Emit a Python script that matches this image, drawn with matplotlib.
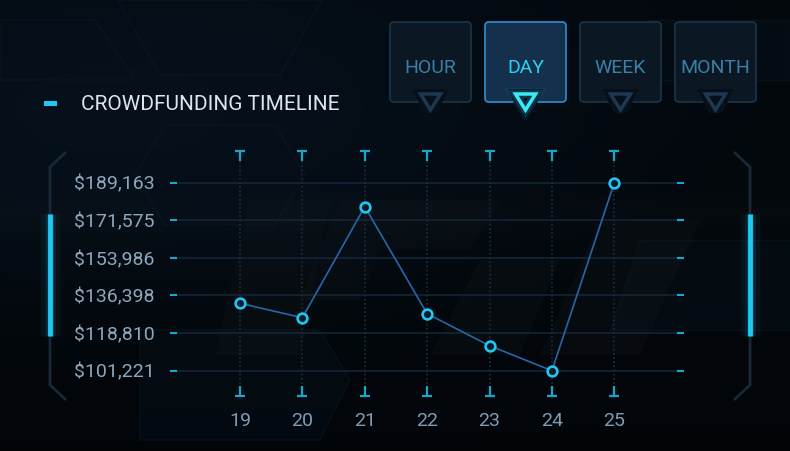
import numpy as np
import matplotlib
matplotlib.use("Agg")
import matplotlib.pyplot as plt
from matplotlib.patches import FancyBboxPatch, Polygon, Rectangle
from matplotlib.path import Path

# Data
days = [19, 20, 21, 22, 23, 24, 25]
funding = [132750, 126010, 177940, 127880, 112920, 101221, 189163]
y_ticks = [101221, 118810, 136398, 153986, 171575, 189163]
y_tick_labels = ["$101,221", "$118,810", "$136,398", "$153,986", "$171,575", "$189,163"]
buttons = ["HOUR", "DAY", "WEEK", "MONTH"]
active_button = "DAY"
title = "CROWDFUNDING TIMELINE"

FONT = "Roboto"
CYAN = "#1ec8f2"
plt.rcParams["font.family"] = [FONT, "DejaVu Sans"]

fig = plt.figure(figsize=(7.9, 4.51), dpi=100)
fig.patch.set_facecolor("#03080d")

# Background layer in pixel coordinates
bg = fig.add_axes([0, 0, 1, 1])
bg.set_xlim(0, 790)
bg.set_ylim(451, 0)
bg.axis("off")

H, W = 451, 790
yy, xx = np.mgrid[0:H, 0:W]
base = np.array([3, 8, 13]) / 255.0
glow = np.exp(-((xx - 120) ** 2 / 160000.0 + (yy - 120) ** 2 / 30000.0))
band = np.exp(-((yy - 212) ** 2) / 300.0) * 0.5
img = np.zeros((H, W, 3))
img[..., 0] = base[0] + 0.012 * glow + 0.02 * band
img[..., 1] = base[1] + 0.035 * glow + 0.02 * band
img[..., 2] = base[2] + 0.06 * glow + 0.018 * band
img = img * (1 - 0.35 * (yy / H) ** 2)[..., None]
bg.imshow(np.clip(img, 0, 1), extent=[0, W, H, 0], aspect="auto", zorder=0)

# faint hex panels
panels = [
    [(0, 20), (95, 20), (135, 80), (0, 80)],
    [(118, 0), (322, 0), (280, 75), (160, 75)],
    [(165, 125), (275, 125), (305, 175), (275, 225), (165, 225), (135, 175)],
    [(650, 20), (790, 20), (790, 80), (620, 80)],
    [(640, 240), (790, 240), (790, 330), (610, 330)],
    [(140, 330), (320, 330), (350, 380), (320, 440), (140, 440)],
]
for p in panels:
    bg.add_patch(Polygon(p, closed=True, fc="#061019", ec="#0c1c2a", lw=1.0, alpha=0.45, zorder=1))

# faint watermark shapes
marks = [
    [(215, 355), (250, 200), (330, 200), (300, 355)],
    [(300, 300), (340, 200), (500, 200), (470, 250), (380, 250), (360, 300)],
    [(430, 355), (480, 260), (560, 260), (520, 355)],
    [(540, 355), (600, 220), (700, 220), (640, 355)],
]
for p in marks:
    bg.add_patch(Polygon(p, closed=True, fc="#1a1f22", ec="none", alpha=0.18, zorder=1))

# side brackets with cyan bars
for side in ("left", "right"):
    if side == "left":
        bx, dx = 50, 15
    else:
        bx, dx = 750, -15
    bg.plot([bx + dx, bx, bx, bx + dx], [153, 167, 385, 399], color="#182836", lw=2, zorder=2)
    for w, a in [(14, 0.05), (8, 0.08), (5, 0.12)]:
        bg.plot([bx, bx], [214, 336], color=CYAN, lw=w, alpha=a, zorder=2, solid_capstyle="butt")
    bg.plot([bx, bx], [214, 336], color=CYAN, lw=3.5, zorder=3, solid_capstyle="butt")

# legend dash + title
bg.add_patch(Rectangle((44, 101), 13, 5, fc=CYAN, ec="none", zorder=3))
bg.text(81, 104, title, color="#dce6ee", fontsize=15, va="center", ha="left", zorder=3)

# period buttons
for i, label in enumerate(buttons):
    x0, y0, w, h = 390 + i * 95, 22, 81, 80
    cx = x0 + w / 2
    active = label == active_button
    fc = "#14304c" if active else "#0b1723"
    ec = "#3284c2" if active else "#1a3145"
    bg.add_patch(FancyBboxPatch((x0, y0), w, h, boxstyle="round,pad=0,rounding_size=4",
                                fc=fc, ec=ec, lw=1.3, zorder=3))
    bg.text(cx, 68, label, color="#29d3f0" if active else "#3a80a6", fontsize=14,
            ha="center", va="center", zorder=4)
    bg.add_patch(Polygon([(cx - 18, 89), (cx + 18, 89), (cx + 7, 113), (cx - 7, 113)],
                         closed=True, fc="#07101a", ec="none", zorder=4))
    tri = [(cx - 10, 94), (cx + 10, 94), (cx, 110)]
    if active:
        for lw, a in [(9, 0.08), (6, 0.15)]:
            bg.add_patch(Polygon(tri, closed=True, fill=False, ec=CYAN, lw=lw, alpha=a, zorder=5))
        bg.add_patch(Polygon(tri, closed=True, fill=False, ec="#3ee8f6", lw=2.5, zorder=5))
    else:
        bg.add_patch(Polygon(tri, closed=True, fill=False, ec="#1d3850", lw=2.5, zorder=5))

# Main chart
ax = fig.add_axes([170 / 790, 58 / 451, 514 / 790, 238 / 451])
ax.patch.set_alpha(0)
ax.set_xlim(17.878, 26.117)
ax.set_ylim(90790, 202120)
for s in ax.spines.values():
    s.set_visible(False)

# horizontal grid with cyan end ticks
ax.hlines(y_ticks, 0, 1, transform=ax.get_yaxis_transform(), color="#132536", lw=1.2, zorder=1)
ax.hlines(y_ticks, 0, 0.0145, transform=ax.get_yaxis_transform(), color="#1aa6d2", lw=1.5, zorder=2)
ax.hlines(y_ticks, 0.9855, 1, transform=ax.get_yaxis_transform(), color="#1aa6d2", lw=1.5, zorder=2)

# vertical dotted guides with T caps
ax.vlines(days, 0.02, 0.98, transform=ax.get_xaxis_transform(), color="#182f42",
          lw=1.2, linestyles=(0, (1, 1.5)), zorder=1)
t_top = Path([(-1, 1), (1, 1), (0, 1), (0, -1)], [Path.MOVETO, Path.LINETO, Path.MOVETO, Path.LINETO])
t_bot = Path([(-1, -1), (1, -1), (0, -1), (0, 1)], [Path.MOVETO, Path.LINETO, Path.MOVETO, Path.LINETO])
ax.plot(days, [0.995] * len(days), transform=ax.get_xaxis_transform(), ls="none",
        marker=t_top, ms=7, mew=1.6, color="#1aa6cc", clip_on=False)
ax.plot(days, [0.01] * len(days), transform=ax.get_xaxis_transform(), ls="none",
        marker=t_bot, ms=7, mew=1.6, color="#1aa6cc", clip_on=False)

# series
ax.plot(days, funding, color="#2766a8", lw=1.2, zorder=3)
ax.plot(days, funding, ls="none", marker="o", ms=7, mfc="#0a1a2a", mec=CYAN, mew=1.9, zorder=4)

ax.set_yticks(y_ticks)
ax.set_yticklabels(y_tick_labels)
ax.set_xticks(days)
ax.set_xticklabels([str(d) for d in days])
ax.tick_params(axis="y", length=0, pad=11, labelsize=14, labelcolor="#8ea6bb")
ax.tick_params(axis="x", length=0, pad=14, labelsize=14, labelcolor="#7f9bb4")

fig.savefig("out.png", dpi=100, facecolor=fig.get_facecolor())
